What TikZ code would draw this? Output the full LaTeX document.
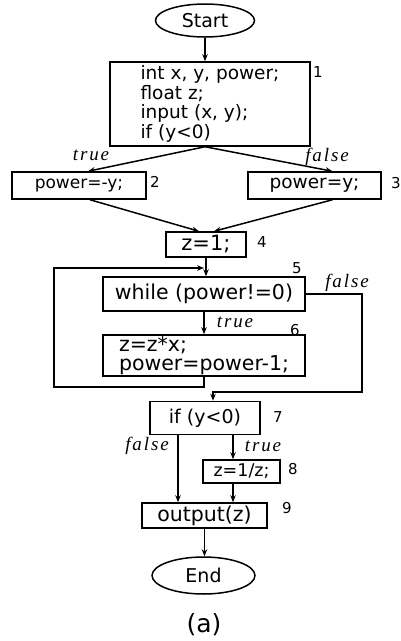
\documentclass[tikz,border=0pt]{standalone}
\usepackage{fontspec}
\setmainfont{DejaVu Sans}
\newfontfamily\lblfont[LetterSpace=10]{Liberation Serif}
\usetikzlibrary{arrows.meta,shapes.geometric}
\newcommand{\fsz}[1]{\fontsize{#1}{#1}\selectfont}
\begin{document}
\begin{tikzpicture}[x=1pt,y=-1pt,
  line width=1.5pt,
  box/.style={draw,rectangle,inner sep=0pt},
  term/.style={draw,ellipse,inner sep=0pt,font=\fsz{19}},
  arr/.style={-{Stealth[length=7pt,width=5.5pt]}},
  num/.style={font=\fsz{15},inner sep=0pt},
  cond/.style={font=\lblfont\itshape\fsz{19},inner sep=0pt}]
\useasboundingbox (0,0) rectangle (401,641);
% terminals
\node[term,minimum width=99pt,minimum height=33pt] (start) at (205,20.5) {Start};
\node[term,minimum width=103pt,minimum height=37pt] (end) at (203.5,575.5) {End};
% boxes
\node[box,minimum width=200pt,minimum height=84pt,align=left,
  font=\fontsize{18.5}{19.5}\selectfont] (b1) at (210,104)
  {int x, y, power;\\ float z;\\ input (x, y);\\ if (y<0)};
\node[box,minimum width=134pt,minimum height=27pt,font=\fsz{17}] (b2) at (79,185.5) {power=-y;};
\node[box,minimum width=133pt,minimum height=27pt,font=\fsz{18.5}] (b3) at (314.5,185.5) {power=y;};
\node[box,minimum width=80pt,minimum height=25pt,font=\fsz{21}] (b4) at (206,244.5) {z=1;};
\node[box,minimum width=202pt,minimum height=34pt,font=\fsz{20.5}] (b5) at (204,294) {while (power!=0)};
\node[box,minimum width=202pt,minimum height=41pt,align=left,
  font=\fontsize{20.5}{19}\selectfont] (b6) at (204,355.5)
  {z=z*x;\\ power=power-1;};
\node[box,minimum width=110pt,minimum height=33pt,font=\fsz{19}] (b7) at (205,418) {if (y<0)};
\node[box,minimum width=77pt,minimum height=23pt,font=\fsz{17.5}] (b8) at (241.5,471.5) {z=1/z;};
\node[box,minimum width=125pt,minimum height=25pt,font=\fsz{20.5}] (b9) at (204.5,515.5) {output(z)};
% numbers
\node[num] (n1) at (318,72) {1};
\node[num] (n2) at (155,182) {2};
\node[num] (n3) at (396,183) {3};
\node[num] (n4) at (262,242) {4};
\node[num] (n5) at (297,268) {5};
\node[num] (n6) at (295,330) {6};
\node[num] (n7) at (278,417) {7};
\node[num] (n8) at (293,469) {8};
\node[num] (n9) at (287,508) {9};
% condition labels
\node[cond] (t1) at (91,155) {true};
\node[cond] (f1) at (327,157) {false};
\node[cond] (f5) at (347,283) {false};
\node[cond] (t5) at (235,322) {true};
\node[cond] (f7) at (147,446) {false};
\node[cond] (t7) at (263,446) {true};
% caption
\node[font=\fsz{25},inner sep=0pt] (cap) at (204,625) {(a)};
% coordinates
\coordinate (b1o) at ([xshift=-5pt]b1.south);
\coordinate (b2i) at ([xshift=9pt]b2.north);
\coordinate (b3i) at ([xshift=18pt]b3.north);
\coordinate (b2o) at ([xshift=11pt]b2.south);
\coordinate (b3o) at ([xshift=18pt]b3.south);
\coordinate (b4l) at ([xshift=-7pt]b4.north);
\coordinate (b4r) at ([xshift=8pt]b4.north);
\coordinate (lp1) at (b6.south |- 0,387);
\coordinate (lp2) at (54,387);
\coordinate (lp3) at (54,268);
\coordinate (lp4) at (b6.south |- 0,268);
\coordinate (fr1) at (362,294);
\coordinate (fr2) at (362,392);
\coordinate (fr3) at (213,392);
\coordinate (b7f) at (178,0);
\coordinate (b7t) at (233,0);
% connectors
\draw[arr] (start.south) -- (start.south |- b1.north);
\draw[arr] (b1o) -- (b2i);
\draw[arr] (b1o) -- (b3i);
\draw[arr] (b2o) -- (b4l);
\draw[arr] (b3o) -- (b4r);
\draw[arr] (b4.south) -- (b4.south |- b5.north);
\draw[arr] (b6.south) -- (lp1) -- (lp2) -- (lp3) -- (lp4);
\draw[arr] (b5.south -| b6.north) -- (b6.north);
\draw[arr] (b5.east) -- (fr1) -- (fr2) -- (fr3) -- (fr3 |- b7.north);
\draw[arr] (b7f |- b7.south) -- (b7f |- b9.north);
\draw[arr] (b7t |- b7.south) -- (b7t |- b8.north);
\draw[arr] (b7t |- b8.south) -- (b7t |- b9.north);
\draw[arr] (b9.south) -- (b9.south |- end.north);
\end{tikzpicture}
\end{document}
